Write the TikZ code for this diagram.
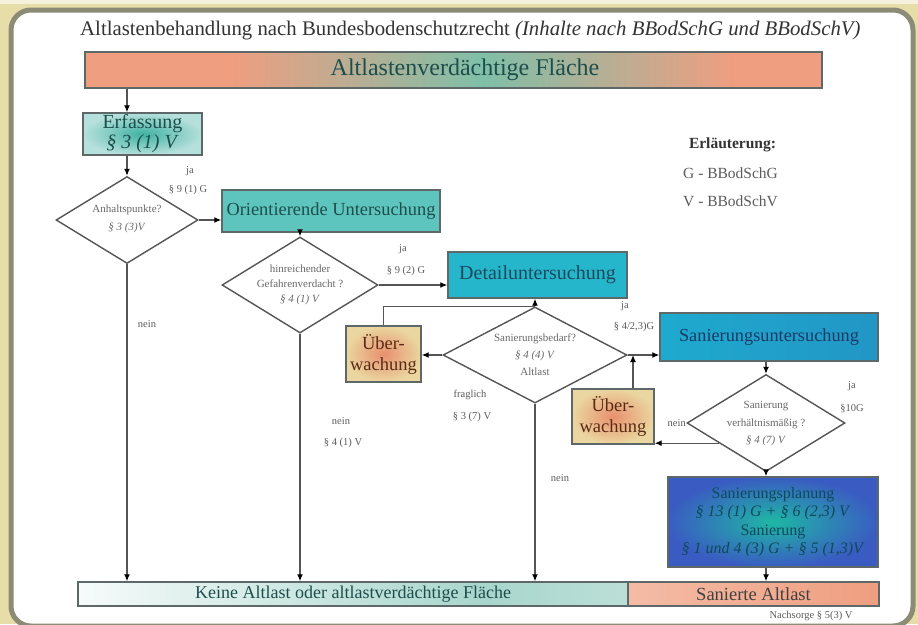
\documentclass[tikz,border=0pt]{standalone}
\usepackage{fontspec}
\setmainfont{Liberation Serif}
\usetikzlibrary{shapes.geometric,arrows.meta,calc}
\definecolor{bgbeige}{HTML}{E6DDA8}
\definecolor{panelframe}{HTML}{8C8C76}
\definecolor{salmonA}{HTML}{EF9E80}
\definecolor{tealA}{HTML}{7FBFA8}
\definecolor{boxline}{HTML}{5E6868}
\definecolor{conn}{HTML}{555555}
\definecolor{lbltext}{HTML}{5C5C5C}
\definecolor{diatext}{HTML}{686868}
\definecolor{darkteal}{HTML}{1E4E4C}
\definecolor{kteal}{HTML}{A8D6CC}
\definecolor{erfin}{HTML}{3FB2A2}
\definecolor{erfout}{HTML}{B6E0DC}
\definecolor{orifill}{HTML}{5EC4BE}
\definecolor{detfill}{HTML}{26B6CC}
\definecolor{sanl}{HTML}{1EAACE}
\definecolor{sanr}{HTML}{2296C6}
\definecolor{uin}{HTML}{E8906E}
\definecolor{uout}{HTML}{EAD6A0}
\definecolor{uetext}{HTML}{5A2A14}
\definecolor{spin}{HTML}{1EB8A4}
\definecolor{spout}{HTML}{3A5CC2}
\definecolor{sptext}{HTML}{0E4A5A}
\definecolor{sanltext}{HTML}{1A3A66}
\definecolor{detext}{HTML}{1A4A5C}
\definecolor{saL}{HTML}{F4BCA6}
\pgfdeclarehorizontalshading{barAshade}{100bp}{color(0bp)=(salmonA); color(35bp)=(salmonA); color(52bp)=(tealA); color(69bp)=(salmonA); color(100bp)=(salmonA)}
\pgfdeclarehorizontalshading{keineshade}{100bp}{color(0bp)=(white); color(25bp)=(white!90!kteal); color(62bp)=(kteal); color(85bp)=(kteal!60!white); color(100bp)=(white!95!kteal)}
\newcommand{\fsz}[2]{\fontsize{#1}{#2}\selectfont}
\begin{document}
\begin{tikzpicture}[x=1pt,y=-1pt,
  boxst/.style={rectangle, draw=boxline, line width=1.4pt, inner sep=0pt, align=center},
  diast/.style={diamond, draw=conn, line width=1.4pt, fill=white, inner sep=0pt},
  diatx/.style={inner sep=0pt, align=center, text=diatext},
  lblst/.style={inner sep=0pt, text=lbltext, font=\fsz{10.5}{12}},
  arrst/.style={draw=conn, line width=1.3pt, -{Latex[length=7pt,width=6pt,color=black]}},
  lnst/.style={draw=conn, line width=1.3pt}]
\useasboundingbox (0,0) rectangle (918,624);
\fill[bgbeige] (0,0) rectangle (918,624);
\fill[white!60!bgbeige] (0,0) rectangle (918,4);
\draw[line width=5pt, draw=panelframe, fill=white, rounded corners=20pt] (11,10) rectangle (913,626);

% title
\node[anchor=west, inner sep=0pt, font=\fsz{20.8}{24}, text=black!80] (title) at (80,31)
  {Altlastenbehandlung nach Bundesbodenschutzrecht \textit{(Inhalte nach BBodSchG und BBodSchV)}};

% boxes
\node[boxst, shading=barAshade, shade, minimum width=737pt, minimum height=36pt] (A) at (453.5,70) {};
\node[inner sep=0pt, font=\fsz{24}{26}, text=darkteal] (At) at (465,70) {Altlastenverdächtige Fläche};
\node[boxst, inner color=erfin, outer color=erfout, minimum width=119pt, minimum height=42pt,
  font=\fsz{20}{20}, text=darkteal] (E) at (142.5,134) {Erfassung\\\textit{§ 3 (1) V}};
\node[boxst, fill=orifill, minimum width=218pt, minimum height=42pt,
  font=\fsz{18.4}{20}, text=darkteal] (O) at (331,211) {Orientierende Untersuchung};
\node[boxst, fill=detfill, minimum width=179pt, minimum height=46pt,
  font=\fsz{20}{22}, text=detext] (Det) at (537.5,275) {Detailuntersuchung};
\node[boxst, inner color=uin, outer color=uout, minimum width=75pt, minimum height=56pt,
  font=\fsz{18.5}{21}, text=uetext] (U1) at (383.5,354) {Über-\\wachung};
\node[boxst, left color=sanl, right color=sanr, minimum width=218pt, minimum height=48pt,
  font=\fsz{18.3}{20}, text=sanltext] (S) at (769,337) {Sanierungsuntersuchung};
\node[boxst, inner color=uin, outer color=uout, minimum width=82pt, minimum height=55pt,
  font=\fsz{18.5}{21}, text=uetext] (U2) at (613,416.5) {Über-\\wachung};
\node[boxst, inner color=spin, outer color=spout, minimum width=210pt, minimum height=90pt,
  font=\fsz{16}{18.5}, text=sptext] (SP) at (773,522)
  {Sanierungsplanung\\\textit{§ 13 (1) G + § 6 (2,3) V}\\Sanierung\\\textit{§ 1 und 4 (3) G + § 5 (1,3)V}};
\node[boxst, shading=keineshade, shade, minimum width=550pt, minimum height=24pt,
  font=\fsz{18}{20}, text=darkteal] (K) at (353,594) {Keine Altlast oder altlastverdächtige Fläche};
\node[boxst, left color=saL, right color=salmonA, minimum width=251pt, minimum height=24pt,
  font=\fsz{18.5}{20}, text=black!75] (SA) at (753.5,594) {Sanierte Altlast};

% diamonds
\node[diast, minimum width=142pt, minimum height=87pt] (D1) at (127,220) {};
\node[diatx, font=\fsz{11}{18}] (D1t) at (127,219) {Anhaltspunkte?\\\textit{§ 3 (3)V}};
\node[diast, minimum width=156pt, minimum height=96pt] (D2) at (300,285) {};
\node[diatx, font=\fsz{11}{15}] (D2t) at (300,285) {hinreichender\\Gefahrenverdacht ?\\\textit{§ 4 (1) V}};
\node[diast, minimum width=184pt, minimum height=96pt] (D3) at (535,355) {};
\node[diatx, font=\fsz{11}{17}] (D3t) at (535,355) {Sanierungsbedarf?\\\textit{§ 4 (4) V}\\Altlast};
\node[diast, minimum width=158pt, minimum height=97pt] (D4) at (766,423) {};
\node[diatx, font=\fsz{11}{17.5}] (D4t) at (766,424) {Sanierung\\verhältnismäßig ?\\\textit{§ 4 (7) V}};

% connectors
\draw[arrst] (D1.north |- A.south) -- (D1.north |- E.north);
\draw[arrst] (D1.north |- E.south) -- (D1.north);
\draw[arrst] (D1.east) -- (D1.east -| O.west);
\draw[arrst] (D2.north |- O.south) -- (D2.north);
\draw[arrst] (D2.east) -- (D2.east -| Det.west);
\draw[lnst] (U1.north) |- (D3.north);
\draw[arrst] (D3.north) -- (D3.north |- Det.south);
\draw[arrst] (D3.west) -- (D3.west -| U1.east);
\draw[arrst] (D3.east) -- (D3.east -| S.west);
\coordinate (j) at (633,355);
\draw[arrst] (j |- U2.north) -- (j);
\draw[arrst] (D4.north |- S.south) -- (D4.north);
\coordinate (p) at ($(D4.west)!0.41!(D4.south)$);
\draw[arrst] (p) -- (p -| U2.east);
\draw[arrst] (D4.south) -- (D4.south |- SP.north);
\draw[arrst] (D4.south |- SP.south) -- (D4.south |- SA.north);
\draw[arrst] (D1.south) -- (D1.south |- K.north);
\draw[arrst] (D2.south) -- (D2.south |- K.north);
\draw[arrst] (D3.south) -- (D3.south |- K.north);

% labels
\node[lblst] (ja1) at (190,171) {ja};
\node[lblst] (g1) at (188,190) {§ 9 (1) G};
\node[lblst] (n1) at (147,324) {nein};
\node[lblst] (ja2) at (403,249) {ja};
\node[lblst] (g2) at (406,271) {§ 9 (2) G};
\node[lblst] (n2) at (341,421) {nein};
\node[lblst] (g3) at (343,443) {§ 4 (1) V};
\node[lblst] (ja3) at (625,306) {ja};
\node[lblst] (g4) at (634,327) {§ 4/2,3)G};
\node[lblst] (fr) at (470,395) {fraglich};
\node[lblst] (g5) at (472,417) {§ 3 (7) V};
\node[lblst] (n3) at (560,478) {nein};
\node[lblst, anchor=east] (n4) at (686,423) {nein};
\node[lblst] (ja4) at (852,386) {ja};
\node[lblst] (g6) at (852,409) {§10G};
\node[lblst, font=\fsz{10.5}{12}] (ns) at (811,616) {Nachsorge § 5(3) V};

% legend
\node[inner sep=0pt, font=\bfseries\fsz{15.5}{17}, text=black!80] (leg) at (732.5,145) {Erläuterung:};
\node[inner sep=0pt, anchor=west, font=\fsz{15.5}{17}, text=lbltext] (legG) at (683,173) {G - BBodSchG};
\node[inner sep=0pt, anchor=west, font=\fsz{15.5}{17}, text=lbltext] (legV) at (683,201) {V - BBodSchV};
\end{tikzpicture}
\end{document}
